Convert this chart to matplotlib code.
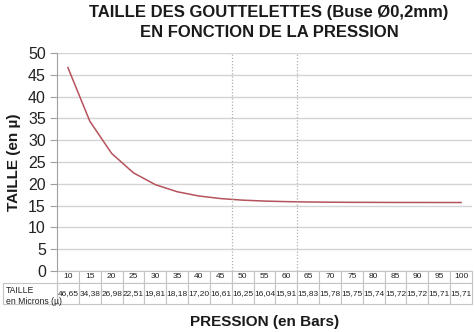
import matplotlib.pyplot as plt
from matplotlib.patches import Rectangle
import numpy as np

plt.rcParams['font.family'] = ['Liberation Sans', 'DejaVu Sans']

pression = [10, 15, 20, 25, 30, 35, 40, 45, 50, 55, 60, 65, 70, 75, 80, 85, 90, 95, 100]
taille = [46.65, 34.38, 26.98, 22.51, 19.81, 18.18, 17.20, 16.61, 16.25, 16.04,
          15.91, 15.83, 15.78, 15.75, 15.74, 15.72, 15.72, 15.71, 15.71]
yticks = [0, 5, 10, 15, 20, 25, 30, 35, 40, 45, 50]

W, H = 474, 332
fig = plt.figure(figsize=(W / 100, H / 100), dpi=100)
left, right, top, bottom = 57, 472, 53, 271
aw, ah = right - left, bottom - top
ax = fig.add_axes([left / W, 1 - bottom / H, aw / W, ah / H])

x = np.arange(len(pression))
ax.plot(x, taille, color='#b5525c', lw=1.1)
ax.set_xlim(-0.5, len(pression) - 0.5)
ax.set_ylim(0, 50)
ax.set_yticks(yticks)
ax.set_xticks([])
ax.grid(axis='y', color='#d4d4d4', lw=1)
ax.set_axisbelow(True)
for b in [7.5, 10.5]:
    ax.axvline(b, color='#b0b0b0', lw=0.9, ls=(0, (1, 1.5)))
for s in ['top', 'right', 'bottom']:
    ax.spines[s].set_visible(False)
ax.spines['left'].set_color('#a0a0a0')
ax.tick_params(axis='y', length=5, color='#a0a0a0', labelsize=11.5, labelcolor='#222222', pad=3)

# data table below the plot
vals = [f"{v:.2f}".replace('.', ',') for v in taille]
th = 304 - bottom
tab = ax.table(cellText=[vals], colLabels=[str(p) for p in pression], cellLoc='center',
               bbox=[0, -th / ah, 1, th / ah])
tab.auto_set_font_size(False)
for (r, c), cell in tab.get_celld().items():
    cell.set_edgecolor('#c4c4c4')
    cell.set_linewidth(0.8)
    cell.set_width(1 / len(pression))
    cell.set_height((12 if r == 0 else 21) / ah)
    cell.get_text().set_fontsize(6.0)
    cell.get_text().set_color('#222222')

# row label cell
fig.patches.append(Rectangle((3 / W, 1 - 304 / H), (left - 3) / W, 21 / H,
                             transform=fig.transFigure, fill=False,
                             edgecolor='#c4c4c4', lw=0.8))
fig.text(6 / W, 1 - 286 / H, 'TAILLE\nen Microns (µ)', ha='left', va='top',
         fontsize=6.2, color='#222222', linespacing=1.25)

fig.text(269 / W, 1 - 22.5 / H, 'TAILLE DES GOUTTELETTES (Buse Ø0,2mm)\nEN FONCTION DE LA PRESSION',
         ha='center', va='center', fontsize=12, fontweight='bold', color='#1a1a1a', linespacing=1.35)
fig.text(265 / W, 1 - 322 / H, 'PRESSION (en Bars)', ha='center', va='center',
         fontsize=11, fontweight='bold', color='#1a1a1a')
fig.text(14 / W, 1 - 162 / H, 'TAILLE (en µ)', ha='center', va='center', rotation=90,
         fontsize=11, fontweight='bold', color='#1a1a1a')

fig.savefig('out.png', dpi=100)
